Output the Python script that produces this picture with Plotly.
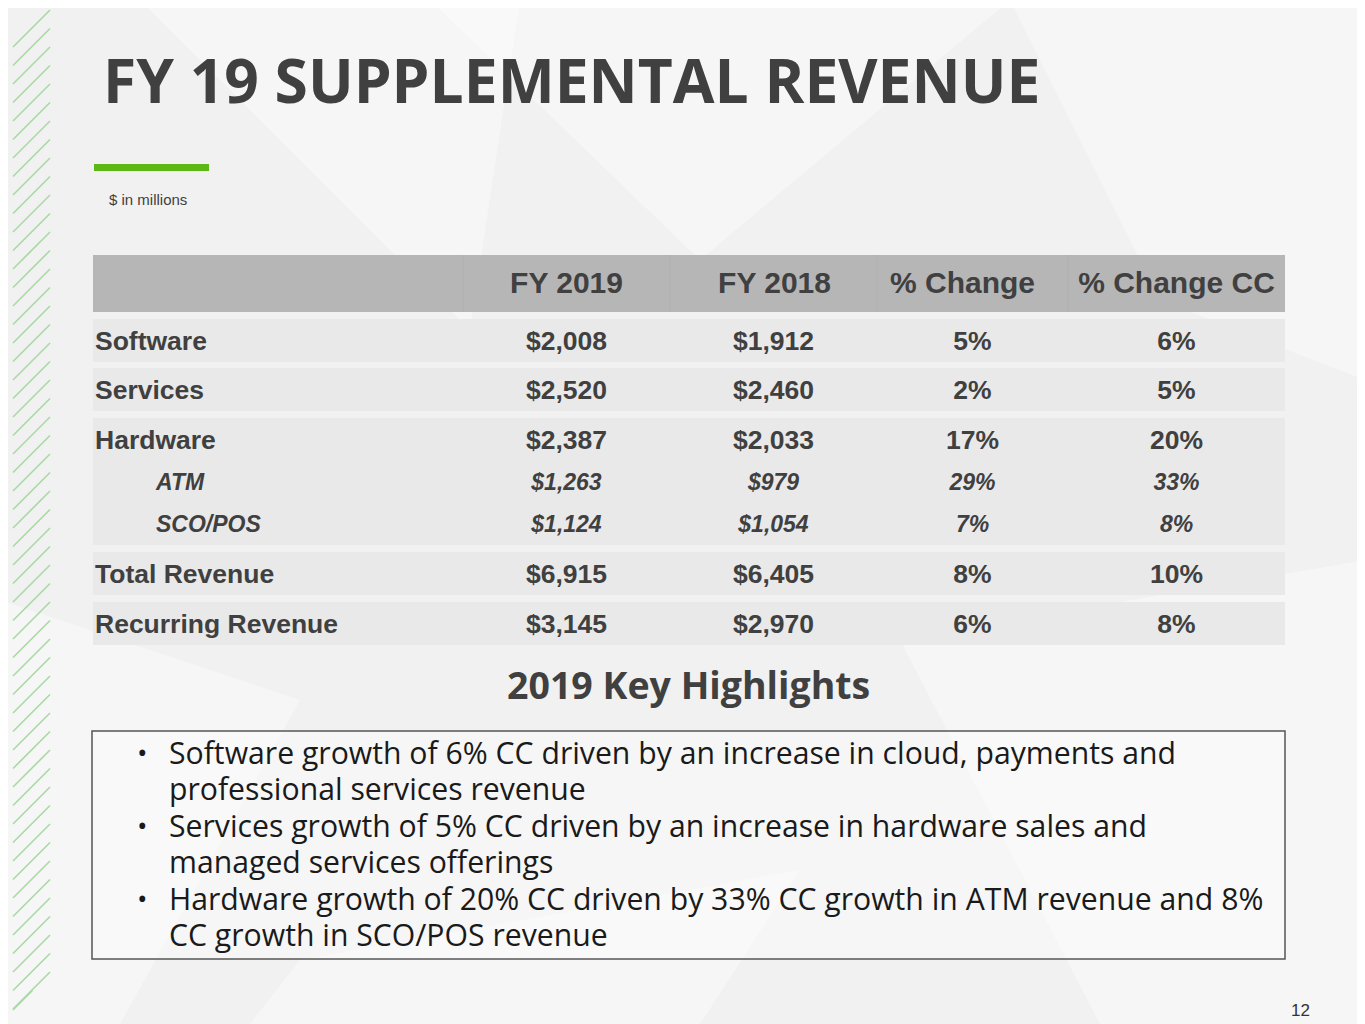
import plotly.graph_objects as go

# --- table data ($ in millions) ---
columns = ["FY 2019", "FY 2018", "% Change", "% Change CC"]
row_labels = ["Software", "Services", "Hardware", "ATM", "SCO/POS", "Total Revenue", "Recurring Revenue"]
fy2019 = [2008, 2520, 2387, 1263, 1124, 6915, 3145]
fy2018 = [1912, 2460, 2033, 979, 1054, 6405, 2970]
pct_change = [5, 2, 17, 29, 7, 8, 6]
pct_change_cc = [6, 5, 20, 33, 8, 10, 8]
is_sub = [False, False, False, True, True, False, False]

highlights = [
    ["Software growth of 6% CC driven by an increase in cloud, payments and",
     "professional services revenue"],
    ["Services growth of 5% CC driven by an increase in hardware sales and",
     "managed services offerings"],
    ["Hardware growth of 20% CC driven by 33% CC growth in ATM revenue and 8%",
     "CC growth in SCO/POS revenue"],
]

W, H = 1365, 1024
PAD = 8  # page body margin, so axis units == screen pixels
DARK = "#404040"
ARIAL = "Liberation Sans, Arial, sans-serif"
OPEN = "Open Sans, sans-serif"

# page geometry (pixels)
col_edges = [463, 670, 877, 1068, 1285]
col_mid = [(a + b) / 2 for a, b in zip(col_edges[:-1], col_edges[1:])]
head_shift = [0, 1, -10, 0]
row_y = [341, 390, 440, 482, 524, 574, 624]
txt_dy = 2.5
groups = [(0, 0), (1, 1), (2, 4), (5, 5), (6, 6)]

fig = go.Figure()
shapes = []

# faint background facets
facets = [
    [(140, 0), (520, 0), (470, 330)],
    [(430, 0), (1010, 0), (700, 260)],
    [(1010, 0), (1365, 0), (1365, 380), (1160, 300)],
    [(0, 600), (300, 700), (120, 1024), (0, 1024)],
    [(900, 640), (1365, 560), (1365, 1024), (1100, 1024)],
    [(300, 960), (800, 870), (700, 1024), (250, 1024)],
]
for pts in facets:
    path = "M " + " L ".join(f"{x},{y}" for x, y in pts) + " Z"
    shapes.append(dict(type="path", path=path, xref="x", yref="y",
                       fillcolor="rgba(255,255,255,0.4)", line=dict(width=0), layer="below"))

# green diagonal stripes on the left edge
y0 = 10
while y0 < 1005:
    yb = min(y0 + 37, 1010)
    shapes.append(dict(type="line", xref="x", yref="y", x0=13, y0=yb, x1=13 + (yb - y0), y1=y0,
                       line=dict(color="#a9d9a4", width=1.6), layer="below"))
    y0 += 18.5

# green accent bar
shapes.append(dict(type="rect", xref="x", yref="y", x0=94, x1=209, y0=164, y1=171,
                   fillcolor="#5db815", line=dict(width=0), layer="below"))

# header band
shapes.append(dict(type="rect", xref="x", yref="y", x0=93, x1=1285, y0=255, y1=312,
                   fillcolor="#b6b6b6", line=dict(width=0), layer="below"))
for xe in col_edges[:-1]:
    shapes.append(dict(type="line", xref="x", yref="y", x0=xe, x1=xe, y0=255, y1=312,
                       line=dict(color="#afafaf", width=1), layer="below"))

# row bands
for a, b in groups:
    shapes.append(dict(type="rect", xref="x", yref="y", x0=93, x1=1285,
                       y0=row_y[a] - 22, y1=row_y[b] + 21,
                       fillcolor="#e9e9e9", line=dict(width=0), layer="below"))

# highlights box
shapes.append(dict(type="rect", xref="x", yref="y", x0=92, x1=1285, y0=731, y1=959,
                   fillcolor="rgba(255,255,255,0.35)", line=dict(color="#555555", width=1.5),
                   layer="below"))

# header text
fig.add_trace(go.Scatter(x=[m + s for m, s in zip(col_mid, head_shift)], y=[283 + txt_dy] * len(columns),
                         mode="text", text=columns, textposition="middle center",
                         textfont=dict(family=ARIAL, size=30, color=DARK, weight="bold"),
                         hoverinfo="skip", showlegend=False))

# row labels
main_idx = [i for i, s in enumerate(is_sub) if not s]
sub_idx = [i for i, s in enumerate(is_sub) if s]
fig.add_trace(go.Scatter(x=[95] * len(main_idx), y=[row_y[i] + txt_dy for i in main_idx], mode="text",
                         text=[row_labels[i] for i in main_idx], textposition="middle right",
                         textfont=dict(family=ARIAL, size=26.5, color=DARK, weight="bold"),
                         hoverinfo="skip", showlegend=False))
fig.add_trace(go.Scatter(x=[156] * len(sub_idx), y=[row_y[i] + txt_dy for i in sub_idx], mode="text",
                         text=[row_labels[i] for i in sub_idx], textposition="middle right",
                         textfont=dict(family=ARIAL, size=23, color=DARK, weight="bold", style="italic"),
                         hoverinfo="skip", showlegend=False))

# value cells
cells = [
    [f"${v:,}" for v in fy2019],
    [f"${v:,}" for v in fy2018],
    [f"{v}%" for v in pct_change],
    [f"{v}%" for v in pct_change_cc],
]
for c, vals in enumerate(cells):
    for idx, size, style in [(main_idx, 26.5, "normal"), (sub_idx, 23, "italic")]:
        fig.add_trace(go.Scatter(x=[col_mid[c]] * len(idx), y=[row_y[i] + txt_dy for i in idx],
                                 mode="text", text=[vals[i] for i in idx], textposition="middle center",
                                 textfont=dict(family=ARIAL, size=size, color=DARK,
                                               weight="bold", style=style),
                                 hoverinfo="skip", showlegend=False))

annotations = [
    dict(x=101, y=79, text="FY 19 SUPPLEMENTAL REVENUE", xanchor="left", yanchor="middle",
         font=dict(family=OPEN, size=60.5, color=DARK, weight="bold")),
    dict(x=107, y=199, text="$ in millions", xanchor="left", yanchor="middle",
         font=dict(family=ARIAL, size=15, color=DARK)),
    dict(x=688, y=684, text="2019 Key Highlights", xanchor="center", yanchor="middle",
         font=dict(family=OPEN, size=37.5, color=DARK, weight="bold")),
    dict(x=1300, y=1010, text="12", xanchor="center", yanchor="middle",
         font=dict(family=ARIAL, size=17, color="#333333")),
]
line_y = 752
for item in highlights:
    annotations.append(dict(x=142, y=line_y, text="•", xanchor="center", yanchor="middle",
                            font=dict(family=OPEN, size=28, color="#1a1a1a")))
    for ln in item:
        annotations.append(dict(x=167, y=line_y, text=ln, xanchor="left", yanchor="middle",
                                font=dict(family=OPEN, size=30.2, color="#1a1a1a")))
        line_y += 36.5
for a in annotations:
    a.update(xref="x", yref="y", showarrow=False)

fig.update_layout(
    width=W - PAD, height=H - PAD, margin=dict(l=0, r=0, t=0, b=0),
    paper_bgcolor="#f1f1f1", plot_bgcolor="#f1f1f1",
    xaxis=dict(range=[PAD, W], visible=False, fixedrange=True),
    yaxis=dict(range=[H, PAD], visible=False, fixedrange=True),
    shapes=shapes, annotations=annotations, showlegend=False,
)

fig.write_html("out.html")
